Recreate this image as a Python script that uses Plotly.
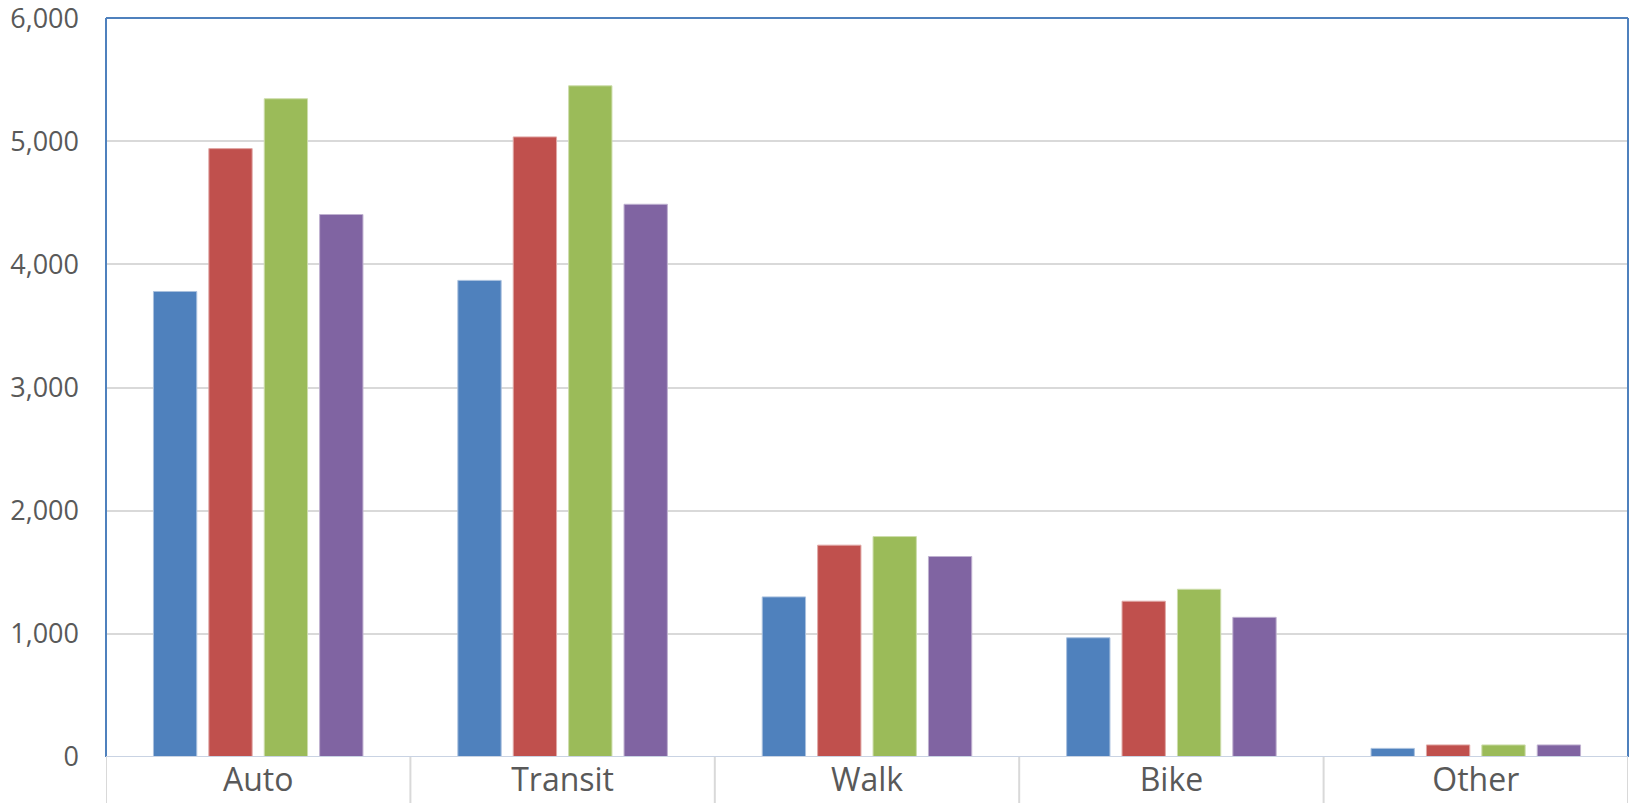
import plotly.graph_objects as go

categories = ["Auto", "Transit", "Walk", "Bike", "Other"]
series_names = ["Series 1", "Series 2", "Series 3", "Series 4"]
series_values = [
    [3780, 3870, 1300, 968, 70],
    [4940, 5035, 1720, 1265, 98],
    [5345, 5450, 1790, 1362, 98],
    [4405, 4488, 1628, 1134, 98],
]
colors = ["#4F81BD", "#C0504D", "#9BBB59", "#8064A2"]
edge_colors = ["#A9C0DE", "#E0A8A6", "#CDDDAC", "#BFB1D0"]
y_ticks = [0, 1000, 2000, 3000, 4000, 5000, 6000]
y_tick_text = ["0", "1,000", "2,000", "3,000", "4,000", "5,000", "6,000"]

fig = go.Figure()
for name, vals, c, ec in zip(series_names, series_values, colors, edge_colors):
    fig.add_trace(go.Bar(x=categories, y=vals, name=name,
                         marker=dict(color=c, line=dict(color=ec, width=1))))

# category divider lines below the axis
shapes = []
n = len(categories)
for i in range(n + 1):
    shapes.append(dict(type="line", xref="x", yref="paper",
                       x0=i - 0.5, x1=i - 0.5, y0=0, y1=-0.07,
                       line=dict(color="#D9D9D9", width=2)))
# plot area border (top, left, right) in blue
shapes.append(dict(type="line", xref="paper", yref="paper", x0=0, x1=1, y0=1, y1=1,
                   line=dict(color="#4F81BD", width=2)))
shapes.append(dict(type="line", xref="paper", yref="paper", x0=0, x1=0, y0=0, y1=1,
                   line=dict(color="#4F81BD", width=2)))
shapes.append(dict(type="line", xref="paper", yref="paper", x0=1, x1=1, y0=0, y1=1,
                   line=dict(color="#4F81BD", width=2)))
# axis baseline
shapes.append(dict(type="line", xref="paper", yref="y", x0=0, x1=1, y0=0, y1=0,
                   line=dict(color="#C9D3E3", width=2)))

fig.update_layout(
    width=1636, height=803,
    margin=dict(l=106, r=8, t=18, b=46),
    paper_bgcolor="white", plot_bgcolor="white",
    showlegend=False,
    barmode="group", bargap=0.272, bargroupgap=0.218,
    font=dict(family="Open Sans", color="#595959"),
    shapes=shapes,
    xaxis=dict(range=[-0.5, n - 0.5], showgrid=False, showline=False,
               ticks="", tickfont=dict(size=32, color="#595959"),
               ticklabelstandoff=1, automargin=False),
    yaxis=dict(range=[0, 6000.5], tickvals=y_ticks, ticktext=y_tick_text,
               showgrid=True, gridcolor="#D9D9D9", gridwidth=2,
               zeroline=False, showline=False, ticks="",
               ticklabeloverflow="allow", automargin=False,
               tickfont=dict(size=27, color="#595959"), ticklabelstandoff=26),
)

fig.write_html("out.html")
